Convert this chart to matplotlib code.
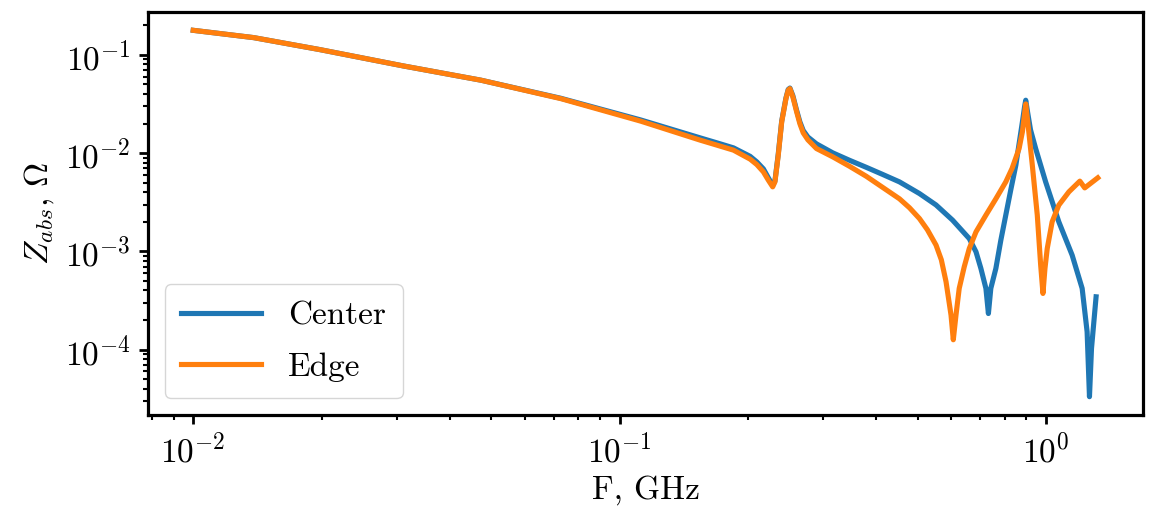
import matplotlib
matplotlib.use("Agg")
import matplotlib.pyplot as plt

# ---- data ----
freq_center = [0.01, 0.01386, 0.01983, 0.03107, 0.0473, 0.0728, 0.112, 0.1546, 0.1692,
               0.1850, 0.2024, 0.2098, 0.2174, 0.2233, 0.2286, 0.2314, 0.2356, 0.2400,
               0.2456, 0.2486, 0.2509, 0.2549, 0.2602, 0.2648, 0.2696, 0.2765, 0.2896,
               0.3162, 0.3464, 0.3791, 0.4138, 0.4534, 0.505, 0.5523, 0.604, 0.661,
               0.6854, 0.7038, 0.7231, 0.7329, 0.7425, 0.763, 0.7838, 0.805, 0.827,
               0.850, 0.8806, 0.8909, 0.8966, 0.9054, 0.920, 0.946, 0.9984, 1.072,
               1.152, 1.216, 1.249, 1.265, 1.279, 1.311]
z_center = [0.178, 0.150, 0.1132, 0.0773, 0.0553, 0.0362, 0.0218, 0.0143, 0.01273,
            0.01132, 0.00928, 0.00815, 0.00692, 0.00561, 0.0047, 0.0052, 0.00984, 0.0212,
            0.0365, 0.0445, 0.046, 0.0385, 0.0272, 0.0208, 0.0170, 0.0146, 0.01243,
            0.01007, 0.00845, 0.00717, 0.00608, 0.0051, 0.00388, 0.00297, 0.00208, 0.00135,
            9.9e-4, 6.7e-4, 4.2e-4, 2.33e-4, 4.2e-4, 6.7e-4, 1.30e-3, 2.34e-3, 4.23e-3,
            7.55e-3, 0.0208, 0.0296, 0.0346, 0.0263, 0.0173, 0.01114, 5.1e-3, 2.0e-3,
            9.16e-4, 4.2e-4, 1.52e-4, 3.32e-5, 1.03e-4, 3.45e-4]

freq_edge = [0.01, 0.01386, 0.01983, 0.03107, 0.0473, 0.0728, 0.112, 0.1546, 0.1692,
             0.1850, 0.2024, 0.2098, 0.2174, 0.2233, 0.2286, 0.2314, 0.2356, 0.2400,
             0.2456, 0.2486, 0.2509, 0.2549, 0.2602, 0.2648, 0.2696, 0.2765, 0.2896,
             0.3162, 0.3464, 0.3791, 0.4138, 0.4534, 0.4786, 0.505, 0.5272, 0.5523,
             0.5684, 0.583, 0.5989, 0.6063, 0.6152, 0.626, 0.6432, 0.661, 0.6854,
             0.7231, 0.763, 0.805, 0.8329, 0.865, 0.8806, 0.8909, 0.8966, 0.9054,
             0.929, 0.9543, 0.9719, 0.984, 0.9947, 1.007, 1.034, 1.072, 1.132, 1.201,
             1.233, 1.323]
z_edge = [0.178, 0.150, 0.1132, 0.0773, 0.0553, 0.0359, 0.0212, 0.01356, 0.01206,
          0.01073, 0.00869, 0.00766, 0.00645, 0.00531, 0.00454, 0.00510, 0.00954, 0.0208,
          0.0359, 0.0438, 0.0454, 0.0374, 0.0263, 0.0199, 0.01609, 0.01366, 0.01114,
          0.00917, 0.00734, 0.00581, 0.00449, 0.00343, 0.00278, 0.00216, 0.00166, 0.00116,
          8.21e-4, 4.91e-4, 2.25e-4, 1.26e-4, 2.25e-4, 4.2e-4, 6.97e-4, 1.07e-3, 1.58e-3,
          2.34e-3, 3.43e-3, 5.1e-3, 7.0e-3, 0.01114, 0.0165, 0.0251, 0.0317, 0.0218,
          7.55e-3, 2.34e-3, 7.26e-4, 3.73e-4, 6.7e-4, 1.07e-3, 2.0e-3, 2.96e-3, 4.04e-3,
          5.19e-3, 4.43e-3, 5.61e-3]

labels = ["Center", "Edge"]
xlabel = "F, GHz"
ylabel = r"$Z_{abs}$, $\Omega$"

# ---- style ----
plt.rcParams["font.family"] = ["cmr10", "DejaVu Serif"]
plt.rcParams["mathtext.fontset"] = "cm"
plt.rcParams["axes.formatter.use_mathtext"] = True
plt.rcParams["font.size"] = 24
plt.rcParams["axes.unicode_minus"] = True

fig = plt.figure(figsize=(11.54, 5.12), dpi=100)
ax = fig.add_axes([148/1154, 1-415/512, (1143-148)/1154, (415-12)/512])

ax.loglog(freq_center, z_center, color="#1f77b4", lw=3.7, label=labels[0])
ax.loglog(freq_edge, z_edge, color="#ff7f0e", lw=3.7, label=labels[1])

ax.set_xlabel(xlabel, fontsize=24, labelpad=5)
ax.set_ylabel(ylabel, fontsize=24, labelpad=6)

for s in ax.spines.values():
    s.set_linewidth(2.3)
ax.tick_params(which="major", length=6.5, width=2.0, labelsize=24, pad=6)
ax.tick_params(which="minor", length=3.6, width=1.5)

ax.legend(loc="lower left", fontsize=24, handlelength=2.4, borderpad=0.5,
          labelspacing=0.65)

fig.savefig("out.png", dpi=100)
